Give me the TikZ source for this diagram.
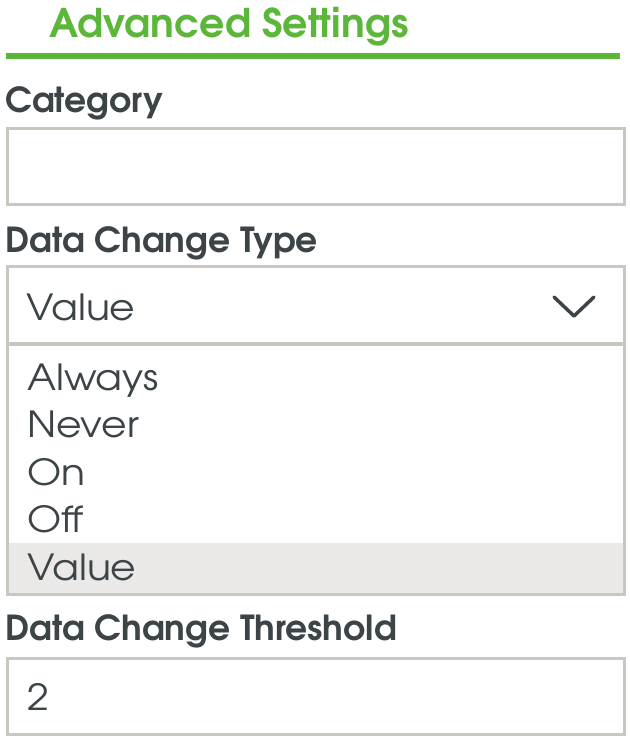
\documentclass[tikz,border=0pt]{standalone}
\usepackage{fontspec}
\setmainfont{texgyreadventor}[Extension=.otf, UprightFont=*-regular, BoldFont=*-bold]
\newfontfamily\wideface{texgyreadventor}[Extension=.otf, UprightFont=*-regular, FakeStretch=1.09]
\usetikzlibrary{positioning}
\definecolor{mgreen}{RGB}{92,182,58}
\definecolor{mdark}{RGB}{60,68,72}
\definecolor{mgrey}{RGB}{200,200,192}
\definecolor{mshade}{RGB}{234,233,231}
\tikzset{head/.style = {anchor=base west, inner sep=0pt, text=mgreen,
                        font=\bfseries\fontsize{39.5}{42}\selectfont},
         caption/.style = {anchor=base west, inner sep=0pt, text=mdark,
                           font=\bfseries\fontsize{34.5}{37}\selectfont},
         entry/.style = {anchor=base west, inner sep=0pt, text=mdark,
                         font=\wideface\fontsize{36}{39}\selectfont},
         field/.style = {draw=mgrey, line width=3pt}}

\begin{document}
\begin{tikzpicture}[x=1pt, y=-1pt]
      \useasboundingbox (0,0) rectangle (630,740);
      \node [head] (title) at (49,37) {Advanced Settings};
      \draw [mgreen, line width=6pt] (6,56) -- (620,56);
      \node [caption] (category) at (5,112) {Category};
      \draw [field] (7.5,128.5) rectangle (624.5,204.5);
      \node [caption] (changetype) at (5,252) {Data Change Type};
      \fill [mshade] (9,543) rectangle (623,593);
      \draw [field] (7.5,266.5) rectangle (624.5,343.5);
      \draw [field] (7.5,344.5) rectangle (624.5,594.5);
      \node [entry] (selected) at (26,320) {Value};
      \draw [mdark, line width=3.5pt, line cap=round, line join=round]
            (554,297) -- (574,316) -- (594,297);
      \foreach \name/\y in {Always/390, Never/437, On/485, Off/532, Value/580}
        \node [entry] (item-\name) at (27,\y) {\name};
      \node [caption] (threshold) at (5,640) {Data Change Threshold};
      \draw [field] (7.5,658.5) rectangle (624.5,734.5);
      \node [entry] (thresholdval) at (27,710) {2};
    \end{tikzpicture}
\end{document}
